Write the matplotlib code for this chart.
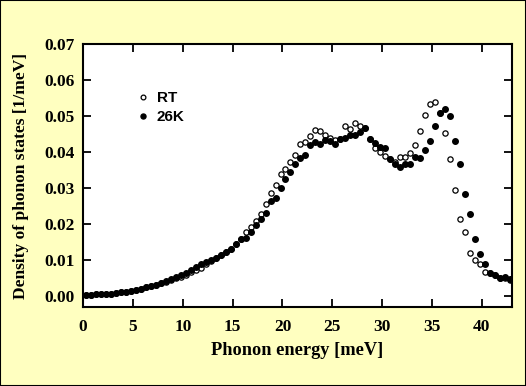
import numpy as np
import matplotlib.pyplot as plt
from matplotlib.patches import Rectangle

# Phonon energy grid [meV] (0.5 meV steps)
energy = np.round(0.3 + 0.5 * np.arange(86), 2)

# Density of phonon states [1/meV]
dos_rt = [
    0.0004, 0.0004, 0.0005, 0.0005, 0.0006, 0.0007, 0.0008, 0.0010, 0.0012, 0.0015,
    0.0018, 0.0021, 0.0024, 0.0028, 0.0032, 0.0035, 0.0039, 0.0044, 0.0049, 0.0054,
    0.0060, 0.0066, 0.0072, 0.0078, 0.0088, 0.0097, 0.0105, 0.0113, 0.0122, 0.0132,
    0.0145, 0.0160, 0.0177, 0.0193, 0.0209, 0.0228, 0.0256, 0.0288, 0.0310, 0.0339,
    0.0353, 0.0374, 0.0392, 0.0423, 0.0428, 0.0445, 0.0462, 0.0459, 0.0448, 0.0441,
    0.0434, 0.0436, 0.0472, 0.0466, 0.0482, 0.0473, 0.0467, 0.0437, 0.0411, 0.0402,
    0.0389, 0.0382, 0.0372, 0.0386, 0.0388, 0.0398, 0.0419, 0.0460, 0.0505, 0.0533,
    0.0540, 0.0510, 0.0454, 0.0381, 0.0295, 0.0214, 0.0177, 0.0121, 0.0099, 0.0088,
    0.0067, 0.0063, 0.0059, 0.0050, 0.0051, 0.0046,
]
dos_26k = [
    0.0004, 0.0004, 0.0005, 0.0005, 0.0006, 0.0007, 0.0008, 0.0010, 0.0012, 0.0015,
    0.0018, 0.0021, 0.0024, 0.0028, 0.0032, 0.0037, 0.0042, 0.0047, 0.0052, 0.0058,
    0.0065, 0.0072, 0.0082, 0.0088, 0.0094, 0.0100, 0.0106, 0.0114, 0.0123, 0.0132,
    0.0144, 0.0158, 0.0162, 0.0179, 0.0199, 0.0214, 0.0230, 0.0265, 0.0272, 0.0300,
    0.0325, 0.0345, 0.0368, 0.0385, 0.0393, 0.0419, 0.0428, 0.0422, 0.0435, 0.0431,
    0.0423, 0.0437, 0.0439, 0.0447, 0.0447, 0.0456, 0.0467, 0.0437, 0.0426, 0.0416,
    0.0413, 0.0381, 0.0367, 0.0360, 0.0367, 0.0367, 0.0388, 0.0383, 0.0407, 0.0432,
    0.0474, 0.0509, 0.0521, 0.0500, 0.0431, 0.0366, 0.0284, 0.0227, 0.0160, 0.0117,
    0.0088, 0.0065, 0.0060, 0.0049, 0.0053, 0.0047,
]

x_ticks = [0, 5, 10, 15, 20, 25, 30, 35, 40]
y_ticks = [0.00, 0.01, 0.02, 0.03, 0.04, 0.05, 0.06, 0.07]

bg = '#ffffc0'
serif = 'Liberation Serif'

fig = plt.figure(figsize=(5.26, 3.86), dpi=100, facecolor=bg)
ax = fig.add_axes([0.158, 0.205, 0.815, 0.68])
ax.set_facecolor('white')

ax.plot(energy, dos_rt, linestyle='none', marker='o', markersize=3.8,
        markerfacecolor='white', markeredgecolor='black', markeredgewidth=0.9,
        label='RT')
ax.plot(energy, dos_26k, linestyle='none', marker='o', markersize=4.0,
        markerfacecolor='black', markeredgecolor='black', label='26K')

ax.set_xlim(0, 43)
ax.set_ylim(-0.003, 0.07)
ax.set_xticks(x_ticks)
ax.set_yticks(y_ticks)
ax.set_yticklabels([f'{v:.2f}' for v in y_ticks])

ax.tick_params(direction='in', length=6, width=1.3, top=True, right=True,
               labelsize=12.5)
ax.tick_params(axis='x', pad=9)
ax.tick_params(axis='y', pad=6)
for lab in ax.get_xticklabels() + ax.get_yticklabels():
    lab.set_fontfamily(serif)
    lab.set_fontweight('bold')
for s in ax.spines.values():
    s.set_linewidth(1.5)

ax.set_xlabel('Phonon energy [meV]', fontfamily=serif, fontweight='bold',
              fontsize=13.2, labelpad=5)
ax.set_ylabel('Density of phonon states [1/meV]', fontfamily=serif,
              fontweight='bold', fontsize=12.5, labelpad=11)

ax.legend(loc='upper left', bbox_to_anchor=(0.09, 0.875), frameon=False,
          handletextpad=0.4, labelspacing=0.35, handlelength=1.0,
          markerscale=0.9,
          prop={'family': 'Liberation Sans', 'weight': 'bold', 'size': 11})

# thin dark frame round the whole picture
fig.patches.append(Rectangle((0, 0), 1, 1, transform=fig.transFigure,
                             fill=False, edgecolor='black', linewidth=1.5))

fig.savefig('out.png', dpi=100, facecolor=bg)
